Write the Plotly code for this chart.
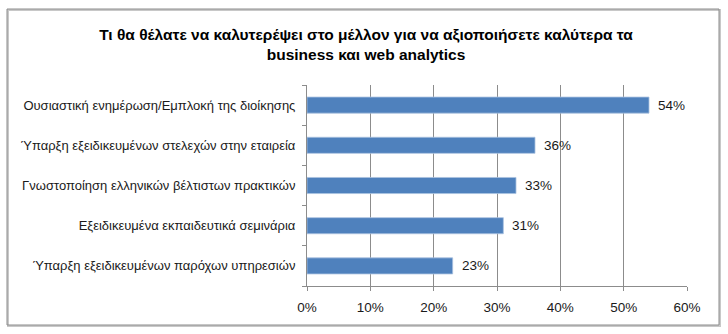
import plotly.graph_objects as go

# Survey answers (top to bottom) and share of respondents
categories = [
    "Ουσιαστική ενημέρωση/Εμπλοκή της διοίκησης",
    "Ύπαρξη εξειδικευμένων στελεχών στην εταιρεία",
    "Γνωστοποίηση ελληνικών βέλτιστων πρακτικών",
    "Εξειδικευμένα εκπαιδευτικά σεμινάρια",
    "Ύπαρξη εξειδικευμένων παρόχων υπηρεσιών",
]
values = [54, 36, 33, 31, 23]
x_ticks = [0, 10, 20, 30, 40, 50, 60]
x_tick_labels = ["0%", "10%", "20%", "30%", "40%", "50%", "60%"]

title_text = ("Τι θα θέλατε να καλυτερέψει στο μέλλον για να αξιοποιήσετε καλύτερα τα"
              "<br>business και web analytics")

FONT = "Liberation Sans, Arial, sans-serif"
W, H = 728, 334
L, R, T, B = 307, 41, 85, 48

fig = go.Figure(
    go.Bar(
        x=values,
        y=categories,
        orientation="h",
        marker=dict(color="#4F81BD", line=dict(color="#A9C1E0", width=0.8)),
        hoverinfo="skip",
    )
)

# value labels to the right of each bar
for cat, v in zip(categories, values):
    fig.add_annotation(x=v, y=cat, text=f"{v}%", showarrow=False,
                       xanchor="left", xshift=7,
                       font=dict(family=FONT, size=13.5, color="#1a1a1a"))

# outer chart frame, in paper units relative to the plot area
pw, ph = W - L - R, H - T - B
def px_x(p):
    return (p - L) / pw
def px_y(p):
    return (H - B - p) / ph

fig.add_shape(type="rect", xref="paper", yref="paper",
              x0=px_x(8), x1=px_x(720), y0=px_y(326), y1=px_y(10),
              line=dict(color="#C8C8C8", width=2), layer="below")
fig.add_shape(type="rect", xref="paper", yref="paper",
              x0=px_x(7), x1=px_x(719), y0=px_y(325), y1=px_y(9),
              line=dict(color="#8C8C8C", width=1), layer="below")

fig.update_layout(
    width=W, height=H,
    margin=dict(l=L, r=R, t=T, b=B, autoexpand=False),
    paper_bgcolor="white", plot_bgcolor="white",
    showlegend=False,
    bargap=0.6,
    title=dict(text=title_text, x=366 / W, xanchor="center", xref="container",
               y=1 - 40 / H, yanchor="top",
               font=dict(family=FONT, size=15.5, color="#000000", weight="bold"),
               pad=dict(t=0, b=0)),
    xaxis=dict(
        range=[0, 60], tickvals=x_ticks, ticktext=x_tick_labels,
        showgrid=True, gridcolor="#8C8C8C", gridwidth=1,
        showline=True, linecolor="#8C8C8C", linewidth=1,
        ticks="outside", ticklen=4, tickcolor="#8C8C8C",
        tickfont=dict(family=FONT, size=13.5, color="#1a1a1a"),
        ticklabelstandoff=5,
        zeroline=False, fixedrange=True, automargin=False,
    ),
    yaxis=dict(
        categoryorder="array", categoryarray=categories[::-1],
        showline=True, linecolor="#8C8C8C", linewidth=1,
        ticks="outside", ticklen=4, tickcolor="#8C8C8C",
        tickson="boundaries",
        tickfont=dict(family=FONT, size=13, color="#1a1a1a"),
        ticklabelstandoff=8,
        showgrid=False, fixedrange=True, automargin=False,
    ),
)

fig.write_html("out.html")
